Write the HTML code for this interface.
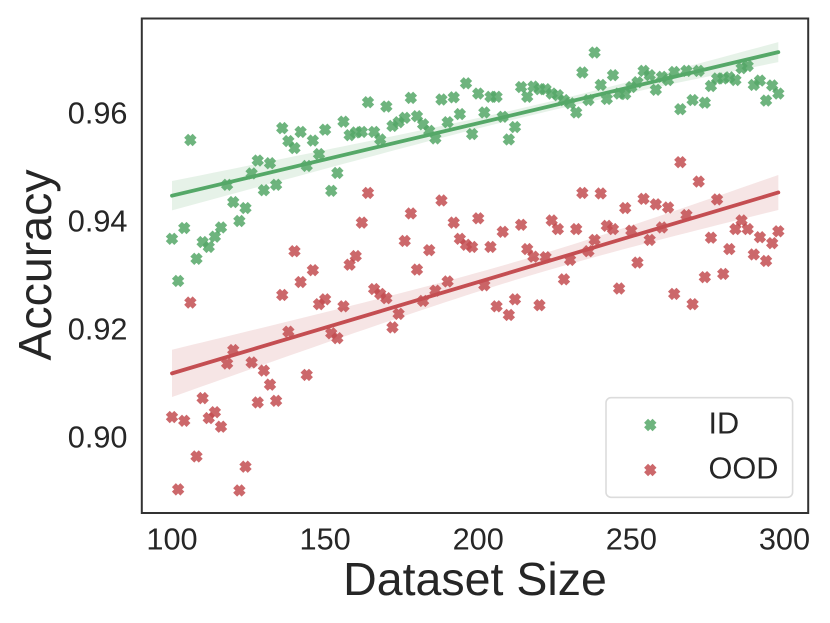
<!DOCTYPE html>
<html>
<head>
<meta charset="utf-8">
<style>
html,body{margin:0;padding:0;background:#fff;}
svg{display:block;font-family:"Liberation Sans",Arial,sans-serif;}
text{fill:#262626;}
</style>
</head>
<body>
<svg id="chart" xmlns="http://www.w3.org/2000/svg" width="830" height="623" viewBox="0 0 830 623">
  <rect x="0" y="0" width="830" height="623" fill="#fff"/>
  <g id="plot"></g>
  <rect x="141.8" y="18.5" width="666.4" height="494.5" fill="none" stroke="#333" stroke-width="2"/>
  <g id="xticks"></g>
  <g id="yticks"></g>
  <text x="475" y="595" font-size="46.5" text-anchor="middle">Dataset Size</text>
  <text transform="translate(51,265) rotate(-90)" font-size="46.5" text-anchor="middle">Accuracy</text>
  <g>
    <rect x="606" y="397.7" width="186.6" height="99.6" rx="5" ry="5" fill="#fff" fill-opacity="0.8" stroke="#dcdcdc" stroke-width="1.6"/>
    <g id="legend-markers"></g>
    <text x="708.5" y="433.3" font-size="30.7">ID</text>
    <text x="708.5" y="478.3" font-size="30.7">OOD</text>
  </g>
</svg>
<script>
const datasetSizes = [100,102,104,106,108,110,112,114,116,118,120,122,124,126,128,130,132,134,136,138,140,142,144,146,148,150,152,154,156,158,160,162,164,166,168,170,172,174,176,178,180,182,184,186,188,190,192,194,196,198,200,202,204,206,208,210,212,214,216,218,220,222,224,226,228,230,232,234,236,238,240,242,244,246,248,250,252,254,256,258,260,262,264,266,268,270,272,274,276,278,280,282,284,286,288,290,292,294,296,298];
const idAccuracy = [.9367,.9289,.9387,.9550,.9330,.9361,.9352,.9371,.9388,.9467,.9435,.9400,.9424,.9488,.9512,.9457,.9507,.9467,.9572,.9548,.9535,.9565,.9502,.9549,.9524,.9569,.9456,.9489,.9584,.9559,.9564,.9565,.9620,.9565,.9551,.9612,.9576,.9583,.9591,.9628,.9594,.9579,.9567,.9553,.9625,.9583,.9629,.9598,.9655,.9561,.9636,.9601,.9630,.9630,.9593,.9551,.9574,.9648,.9630,.9649,.9644,.9644,.9636,.9633,.9624,.9618,.9601,.9675,.9624,.9712,.9652,.9626,.9670,.9636,.9635,.9648,.9657,.9678,.9670,.9643,.9667,.9661,.9676,.9607,.9678,.9624,.9678,.9619,.9650,.9664,.9664,.9666,.9661,.9683,.9687,.9652,.9660,.9623,.9651,.9636];
const oodAccuracy = [.9037,.8903,.9030,.9249,.8964,.9072,.9035,.9046,.9019,.9136,.9161,.8901,.8945,.9138,.9064,.9123,.9097,.9067,.9263,.9195,.9344,.9287,.9115,.9309,.9246,.9255,.9192,.9183,.9242,.9319,.9335,.9397,.9452,.9274,.9265,.9257,.9203,.9228,.9363,.9414,.9310,.9252,.9346,.9271,.9438,.9288,.9397,.9367,.9356,.9352,.9405,.9281,.9352,.9242,.9380,.9226,.9255,.9393,.9348,.9334,.9244,.9333,.9401,.9385,.9292,.9328,.9385,.9452,.9344,.9365,.9451,.9391,.9385,.9275,.9424,.9382,.9323,.9441,.9365,.9431,.9388,.9425,.9265,.9509,.9411,.9246,.9473,.9296,.9369,.9440,.9302,.9348,.9385,.9401,.9385,.9338,.9370,.9326,.9359,.9381];
const xTickValues = [100,150,200,250,300];
const yTickValues = [0.90,0.92,0.94,0.96];

const NS = 'http://www.w3.org/2000/svg';
function xScale(v){ return 172 + (v - 100) * 3.0622; }
function yScale(v){ return 113 + (0.96 - v) * 5400; }

function xMarkerPoints(cx, cy, h){
  const shape = [[-1,-.5],[-.5,-1],[0,-.5],[.5,-1],[1,-.5],[.5,0],[1,.5],[.5,1],[0,.5],[-.5,1],[-1,.5],[-.5,0]];
  return shape.map(p => (cx + p[0]*h).toFixed(2) + ',' + (cy + p[1]*h).toFixed(2)).join(' ');
}

function styleMarker(m, color){
  m.setAttribute('fill', color);
  m.setAttribute('stroke', color);
  m.setAttribute('stroke-width', '2.4');
  m.setAttribute('stroke-linejoin', 'miter');
  m.setAttribute('opacity', '0.85');
}

function fitRegression(xs, ys){
  const n = xs.length;
  const mx = xs.reduce((a,b)=>a+b,0)/n;
  const my = ys.reduce((a,b)=>a+b,0)/n;
  let sxx = 0, sxy = 0;
  for(let i=0;i<n;i++){ sxx += (xs[i]-mx)*(xs[i]-mx); sxy += (xs[i]-mx)*(ys[i]-my); }
  const slope = sxy/sxx, intercept = my - slope*mx;
  const resid = xs.map((x,i)=> ys[i] - (intercept + slope*x));
  return {
    predict: x => intercept + slope*x,
    halfWidth: x => {
      let v = 0;
      for(let i=0;i<n;i++){
        const w = 1/n + (x-mx)*(xs[i]-mx)/sxx;
        v += w*w*resid[i]*resid[i];
      }
      return 1.96*Math.sqrt(v);
    }
  };
}

function drawSeries(parent, values, color, key){
  const g = document.createElementNS(NS,'g');
  
  
  parent.appendChild(g);

  values.forEach((v,i)=>{
    const m = document.createElementNS(NS,'polygon');
    
    
    m.setAttribute('points', xMarkerPoints(xScale(datasetSizes[i]), yScale(v), 4.5));
    styleMarker(m, color);
    g.appendChild(m);
  });

  const fit = fitRegression(datasetSizes, values);
  const first = datasetSizes[0], last = datasetSizes[datasetSizes.length-1];
  const upper = [], lower = [];
  for(let k=0;k<=60;k++){
    const x = first + (last-first)*k/60;
    const h = fit.halfWidth(x), p = fit.predict(x);
    upper.push(xScale(x).toFixed(2)+','+yScale(p+h).toFixed(2));
    lower.unshift(xScale(x).toFixed(2)+','+yScale(p-h).toFixed(2));
  }
  const band = document.createElementNS(NS,'polygon');
  
  
  band.setAttribute('points', upper.concat(lower).join(' '));
  band.setAttribute('fill', color);
  band.setAttribute('fill-opacity', '0.15');
  g.appendChild(band);

  const line = document.createElementNS(NS,'line');
  
  
  line.setAttribute('x1', xScale(first));
  line.setAttribute('y1', yScale(fit.predict(first)));
  line.setAttribute('x2', xScale(last));
  line.setAttribute('y2', yScale(fit.predict(last)));
  line.setAttribute('stroke', color);
  line.setAttribute('stroke-width', '3.8');
  line.setAttribute('stroke-linecap', 'round');
  g.appendChild(line);
}

const plot = document.getElementById('plot');
drawSeries(plot, idAccuracy, '#55A868', 'id');
drawSeries(plot, oodAccuracy, '#C44E52', 'ood');

const xticks = document.getElementById('xticks');
xTickValues.forEach(v=>{
  const t = document.createElementNS(NS,'text');
  
  
  t.setAttribute('x', xScale(v));
  t.setAttribute('y', 549.3);
  t.setAttribute('font-size', '30.7');
  t.setAttribute('text-anchor', 'middle');
  t.textContent = String(v);
  xticks.appendChild(t);
});

const yticks = document.getElementById('yticks');
yTickValues.forEach(v=>{
  const t = document.createElementNS(NS,'text');
  
  
  t.setAttribute('x', 127.5);
  t.setAttribute('y', yScale(v) + 10.5);
  t.setAttribute('font-size', '30.7');
  t.setAttribute('text-anchor', 'end');
  t.textContent = v.toFixed(2);
  yticks.appendChild(t);
});

const lm = document.getElementById('legend-markers');
const idMark = document.createElementNS(NS,'polygon');


idMark.setAttribute('points', xMarkerPoints(650.3, 425, 4.5));
styleMarker(idMark, '#55A868');
lm.appendChild(idMark);
const oodMark = document.createElementNS(NS,'polygon');


oodMark.setAttribute('points', xMarkerPoints(650.3, 470, 4.5));
styleMarker(oodMark, '#C44E52');
lm.appendChild(oodMark);
</script>
</body>
</html>
